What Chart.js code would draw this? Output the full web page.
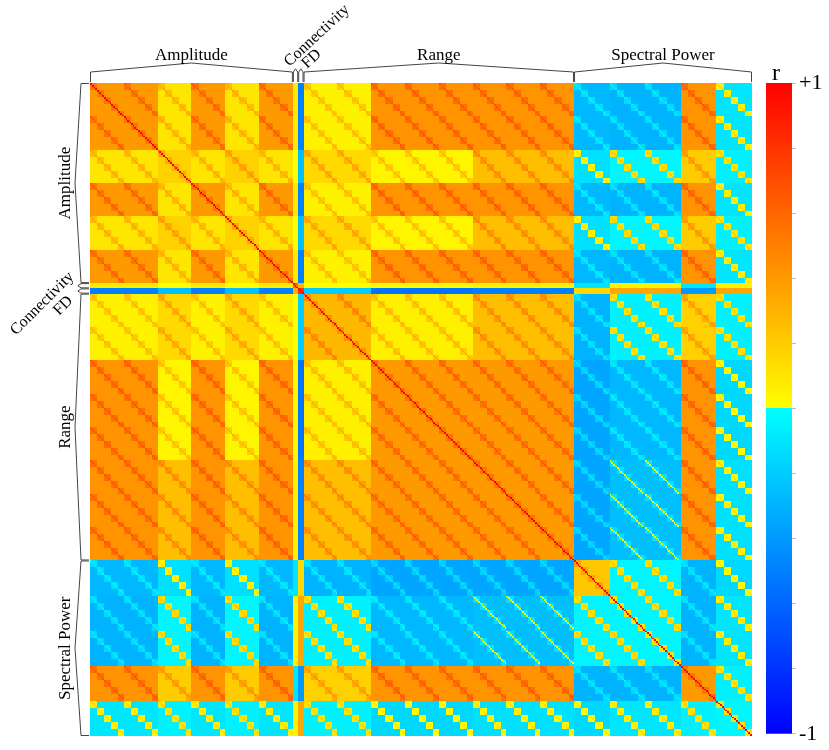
<!DOCTYPE html>
<html><head><meta charset="utf-8">
<script src="https://cdn.jsdelivr.net/npm/chart.js@4.4.1/dist/chart.umd.min.js"></script>
<style>
html,body{margin:0;padding:0;background:#fff;}
#wrap{position:relative;width:829px;height:750px;overflow:hidden;}
#heat{position:absolute;left:0;top:0;}
#bar{position:absolute;left:756px;top:0;}
</style></head><body>
<div id="wrap"><canvas id="heat" width="756" height="750"></canvas><canvas id="bar" width="73" height="750"></canvas></div>
<script>
// ---- data ----
const groupNames = ["Amplitude", "Connectivity", "FD", "Range", "Spectral Power"];
const blockTypes = ["AO", "AY", "C", "F", "RY", "RO1", "RO2", "S1", "S23", "S4", "S5"];
const blockSequence = ["AO","AO","AY","AO","AY","AO","C","F","RY","RY","RO1","RO1","RO1","RO2","RO2","RO2","S1","S23","S23","S4","S5"];
const blockSizes    = [19,19,19,19,19,19,3,3,19,19,19,19,19,19,19,19,20,20,20,20,20];
const blockGroup    = [0,0,0,0,0,0,1,2,3,3,3,3,3,3,3,3,4,4,4,4,4];
const channelRegion19 = [0,0,0,0,1,1,1,1,2,2,2,2,3,3,3,3,4,4,4];
const channelRegion20 = [0,0,0,0,1,1,1,1,2,2,2,2,3,3,3,3,4,4,4,4];
// block-level correlation between feature types (rows/cols in blockTypes order)
const typeCorr = [
 [ 0.40, 0.10, 0.08,-0.50, 0.05, 0.42, 0.42,-0.28,-0.30, 0.42,-0.10],
 [ 0.10, 0.18, 0.00,-0.25, 0.15, 0.04, 0.25,-0.12,-0.03, 0.20,-0.05],
 [ 0.08, 0.00, 0.60, 0.30, 0.00, 0.02, 0.05,-0.10, 0.05,-0.10, 0.05],
 [-0.50,-0.25, 0.30, 0.80,-0.20,-0.55,-0.50, 0.15, 0.35,-0.40, 0.35],
 [ 0.05, 0.15, 0.00,-0.20, 0.28, 0.06, 0.25,-0.30,-0.05, 0.18,-0.05],
 [ 0.42, 0.04, 0.02,-0.55, 0.06, 0.40, 0.40,-0.35,-0.28, 0.42,-0.15],
 [ 0.42, 0.25, 0.05,-0.50, 0.25, 0.40, 0.40,-0.35,-0.25, 0.42,-0.12],
 [-0.28,-0.12,-0.10, 0.15,-0.30,-0.35,-0.35, 0.22,-0.04,-0.30,-0.15],
 [-0.30,-0.03, 0.05, 0.35,-0.05,-0.28,-0.25,-0.04,-0.03,-0.30,-0.10],
 [ 0.42, 0.20,-0.10,-0.40, 0.18, 0.42, 0.42,-0.30,-0.30, 0.40,-0.05],
 [-0.10,-0.05, 0.05, 0.35,-0.05,-0.15,-0.12,-0.15,-0.10,-0.05,-0.03]
];
const sameChannelBoost = 0.25;
const sameRegionBoost = 0.15;
const colorbarMin = -1, colorbarMax = 1, colorbarStep = 0.2;
const colorbarLabels = {"1": "+1", "-1": "-1"};

// ---- build feature lists ----
const featType = [], featChan = [], featReg = [];
blockSequence.forEach((t, b) => {
  const n = blockSizes[b];
  const regs = n === 19 ? channelRegion19 : (n === 20 ? channelRegion20 : null);
  for (let k = 0; k < n; k++) {
    const idx = featType.length;
    featType.push(blockTypes.indexOf(t));
    featChan.push(regs ? k : 10000 + idx);
    featReg.push(regs ? regs[k] : -10000 - idx);
  }
});
const N = featType.length;

function corr(i, j) {
  if (i === j) return 1;
  let v = typeCorr[featType[i]][featType[j]];
  if (featChan[i] === featChan[j]) v += sameChannelBoost;
  else if (featReg[i] === featReg[j]) v += sameRegionBoost;
  return Math.max(-1, Math.min(1, v));
}
function colorOf(r) {
  if (r >= 0) return 'rgb(255,' + Math.round(255 * (1 - r)) + ',0)';
  return 'rgb(0,' + Math.round(255 * (1 + r)) + ',255)';
}
const colors = [];
for (let i = 0; i < N; i++) { const row = []; for (let j = 0; j < N; j++) row.push(colorOf(corr(i, j))); colors.push(row); }

function groupRange(g) {
  let s = 0, a = null, b = null;
  blockSizes.forEach((n, k) => { if (blockGroup[k] === g) { if (a === null) a = s; b = s + n; } s += n; });
  return [a, b];
}

const FONT = '17px "Liberation Serif", "DejaVu Serif", serif';
const FONT_SMALL = '16px "Liberation Serif", "DejaVu Serif", serif';

const heatmapPlugin = {
  id: 'heatmap',
  beforeDatasetsDraw(chart) {
    const ctx = chart.ctx, xs = chart.scales.x, ys = chart.scales.y;
    const xe = [], ye = [];
    for (let k = 0; k <= N; k++) { xe.push(Math.round(xs.getPixelForValue(k))); ye.push(Math.round(ys.getPixelForValue(k))); }
    ctx.save();
    for (let i = 0; i < N; i++) {
      let j = 0;
      while (j < N) {
        const c = colors[i][j];
        let j2 = j + 1;
        while (j2 < N && colors[i][j2] === c) j2++;
        ctx.fillStyle = c;
        ctx.fillRect(xe[j], ye[i], xe[j2] - xe[j], ye[i + 1] - ye[i]);
        j = j2;
      }
    }
    ctx.restore();
  },
  afterDraw(chart) {
    const ctx = chart.ctx, xs = chart.scales.x, ys = chart.scales.y;
    const top = chart.chartArea.top, left = chart.chartArea.left;
    ctx.save();
    ctx.strokeStyle = '#444'; ctx.lineWidth = 1;
    ctx.fillStyle = '#000';
    groupNames.forEach((name, g) => {
      const [a, b] = groupRange(g);
      // top brace
      const x0 = xs.getPixelForValue(a), x1 = xs.getPixelForValue(b);
      const w = x1 - x0;
      const rise = Math.min(9, Math.max(3, w * 0.6));
      const st = 11;
      ctx.beginPath();
      ctx.moveTo(x0 + 0.5, top - 1); ctx.lineTo(x0 + 0.5, top - st);
      ctx.lineTo((x0 + x1) / 2, top - st - rise);
      ctx.lineTo(x1 - 0.5, top - st); ctx.lineTo(x1 - 0.5, top - 1);
      ctx.stroke();
      // left brace
      const y0 = ys.getPixelForValue(a), y1 = ys.getPixelForValue(b);
      const h = y1 - y0;
      const riseL = Math.min(6, Math.max(3, h * 0.6));
      const sl = 9;
      ctx.beginPath();
      ctx.moveTo(left - 1, y0 + 0.5); ctx.lineTo(left - sl, y0 + 0.5);
      ctx.lineTo(left - sl - riseL, (y0 + y1) / 2);
      ctx.lineTo(left - sl, y1 - 0.5); ctx.lineTo(left - 1, y1 - 0.5);
      ctx.stroke();
      const midX = (x0 + x1) / 2, midY = (y0 + y1) / 2;
      if (w > 30) {
        ctx.font = FONT;
        ctx.textAlign = 'center'; ctx.textBaseline = 'alphabetic';
        ctx.fillText(name, midX, top - st - rise - 3);
        ctx.save();
        ctx.translate(left - sl - riseL - 5, midY);
        ctx.rotate(-Math.PI / 2);
        ctx.fillText(name, 0, 0);
        ctx.restore();
      } else {
        ctx.font = FONT_SMALL;
        ctx.textAlign = 'left'; ctx.textBaseline = 'alphabetic';
        const off = g === 1 ? { tx: -6, ty: -16, lx: -74, ly: 50 } : { tx: 6, ty: -14, lx: -31, ly: 25 };
        ctx.save(); ctx.translate(midX + off.tx, top + off.ty); ctx.rotate(-43 * Math.PI / 180); ctx.fillText(name, 0, 0); ctx.restore();
        ctx.save(); ctx.translate(left + off.lx, midY + off.ly); ctx.rotate(-45 * Math.PI / 180); ctx.fillText(name, 0, 0); ctx.restore();
      }
    });
    ctx.restore();
  }
};

new Chart(document.getElementById('heat'), {
  type: 'scatter',
  data: { datasets: [{ data: [] }] },
  options: {
    responsive: false, animation: false, devicePixelRatio: 1,
    layout: { padding: { left: 90, top: 83, right: 4, bottom: 14 } },
    plugins: { legend: { display: false }, tooltip: { enabled: false } },
    scales: {
      x: { type: 'linear', min: 0, max: N, display: false },
      y: { type: 'linear', min: 0, max: N, reverse: true, display: false }
    }
  },
  plugins: [heatmapPlugin]
});

const titlePlugin = {
  id: 'rtitle',
  afterDraw(chart) {
    const a = chart.chartArea, ctx = chart.ctx;
    ctx.save();
    ctx.fillStyle = '#000';
    ctx.font = '24px "Liberation Serif", serif';
    ctx.textAlign = 'center'; ctx.textBaseline = 'alphabetic';
    ctx.fillText('r', (a.left + a.right) / 2 - 3, a.top - 3);
    ctx.restore();
  }
};

new Chart(document.getElementById('bar'), {
  type: 'bar',
  data: {
    labels: ['r'],
    datasets: [{
      data: [[colorbarMin, colorbarMax]],
      backgroundColor: (c) => {
        const a = c.chart.chartArea;
        if (!a) return 'rgb(255,0,0)';
        const g = c.chart.ctx.createLinearGradient(0, a.top, 0, a.bottom);
        g.addColorStop(0, 'rgb(255,0,0)');
        g.addColorStop(0.5, 'rgb(255,255,0)');
        g.addColorStop(0.5, 'rgb(0,255,255)');
        g.addColorStop(1, 'rgb(0,0,255)');
        return g;
      },
      borderWidth: 0, barPercentage: 1, categoryPercentage: 1
    }]
  },
  options: {
    responsive: false, animation: false, devicePixelRatio: 1,
    layout: { padding: { left: 10, top: 83, right: 0, bottom: 15 } },
    plugins: { legend: { display: false }, tooltip: { enabled: false } },
    scales: {
      x: { display: false },
      y: {
        position: 'right', min: colorbarMin, max: colorbarMax,
        ticks: {
          stepSize: colorbarStep, autoSkip: false,
          callback: (v) => { const k = String(Math.round(v * 10) / 10); return colorbarLabels[k] || ''; },
          font: { family: '"Liberation Serif", serif', size: 22 }, color: '#000', padding: 3
        },
        grid: { drawOnChartArea: false, drawTicks: true, tickLength: 4, color: '#bbb' },
        border: { display: false },
        afterFit(s) { s.width = 37; }
      }
    }
  },
  plugins: [titlePlugin]
});
</script>
</body></html>
